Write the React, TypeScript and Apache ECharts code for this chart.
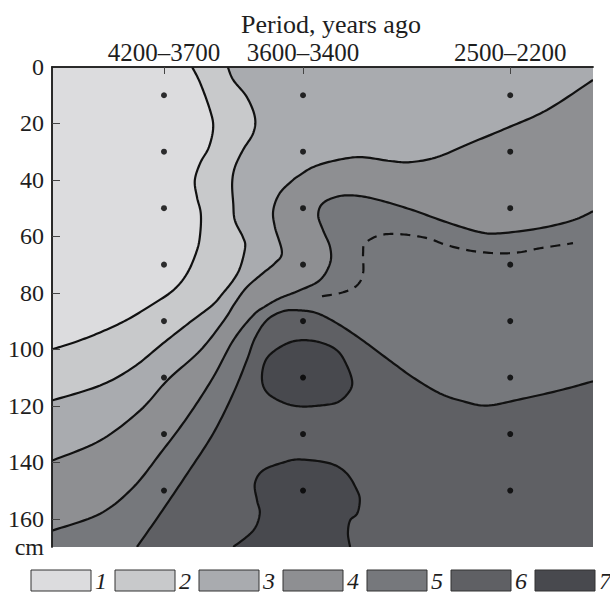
import React, { useEffect, useRef } from "react";
import * as echarts from "echarts";

// ---- data (x: relative position 0–100 across the section, y: depth in cm) ----
const periodLabels = ["4200–3700", "3600–3400", "2500–2200"];
const periodX = [20.7, 46.4, 84.7];
const sampleDepths = [10, 30, 50, 70, 90, 110, 130, 150];
const depthTicks = [20, 40, 60, 80, 100, 120, 140, 160];
const depthLabels = [0, 20, 40, 60, 80, 100, 120, 140, 160, 170];
const legendLabels = ["1", "2", "3", "4", "5", "6", "7"];

// contour 1|2 (top edge -> left edge)
const c12 = [[25.9,0],[27.4,5.7],[29.2,15.2],[29.8,21.3],[29.0,28.4],[27.4,34.0],[26.4,40.1],[26.8,46.1],[27.5,51.8],[27.4,58.9],[26.8,64.9],[25.0,73.0],[22.4,79.1],[18.3,84.4],[13.7,89.7],[8.9,94.0],[4.6,97.2],[0,100]];
// contour 2|3 (top edge -> left edge)
const c23 = [[32.5,0],[33.5,4.6],[36.0,10.6],[37.5,17.7],[37.2,23.4],[35.3,29.4],[33.8,35.5],[33.3,41.1],[33.5,48.2],[33.8,54.3],[35.3,60.3],[35.7,63.8],[34.8,70.9],[33.5,75.5],[31.6,80.1],[29.6,84.4],[25.5,90.4],[20.5,97.9],[15.0,106.4],[8.9,112.8],[0,118.1]];
// contour 3|4 (right edge -> left edge)
const c34 = [[100,4.6],[91.5,15.2],[84.1,21.6],[77.3,27.0],[71.2,31.9],[66.2,33.7],[62.5,33.3],[56.9,31.9],[51.9,33.3],[48.2,35.5],[45.8,38.3],[44.5,40.1],[42.1,44.7],[40.9,50.7],[41.2,56.7],[42.5,65.6],[41.2,69.5],[39.0,73.0],[36.0,78.0],[33.8,83.7],[31.8,89.7],[27.4,100.4],[21.3,111.0],[16.3,121.6],[8.9,132.3],[0,139.4]];
// contour 4|5 (right edge -> left edge)
const c45 = [[100,51.1],[96.3,54.3],[90.2,57.1],[82.8,58.9],[79.1,58.5],[73.0,55.0],[66.7,50.7],[61.2,47.5],[56.9,45.7],[53.2,45.7],[50.1,48.2],[49.2,52.5],[50.1,57.8],[51.4,63.8],[51.4,69.5],[49.5,75.5],[45.8,79.1],[42.1,81.9],[39.4,84.8],[37.2,87.9],[33.5,96.8],[29.8,109.9],[25.0,124.1],[20.0,136.9],[15.0,148.9],[8.9,158.2],[0,164.2]];
// contour 5|6 (right edge -> bottom edge)
const c56 = [[100,111.3],[93.9,114.5],[86.5,117.7],[80.4,119.9],[76.0,118.4],[71.7,115.6],[66.7,109.9],[61.9,103.2],[56.9,96.1],[52.7,90.8],[49.0,87.2],[45.8,86.2],[42.7,86.5],[39.7,89.7],[37.5,96.1],[36.0,103.9],[33.5,115.6],[29.8,129.8],[25.0,144.0],[20.0,158.2],[15.7,170]];
// contour 6|7, upper closed patch
const c67upper = [[45.8,96.8],[49.5,97.5],[52.7,100.4],[54.5,105.7],[55.5,111.7],[54.7,115.6],[52.7,118.8],[49.5,119.9],[45.8,120.2],[42.7,118.8],[39.7,115.2],[38.8,109.9],[39.7,103.2],[42.7,98.6]];
// contour 6|7, lower patch (bottom edge -> bottom edge)
const c67lower = [[33.5,170],[37.2,164.2],[38.4,158.2],[37.9,153.5],[37.5,147.5],[39.0,142.9],[42.7,140.1],[45.8,139.0],[51.4,140.4],[54.5,144.0],[56.4,150.0],[56.9,153.5],[56.4,158.2],[55.1,160.6],[54.7,165.2],[55.1,170]];
// dashed isoline
const dashed = [[49.9,81.2],[53.8,79.8],[56.4,77.3],[57.5,73.0],[57.5,66.0],[57.9,62.4],[60.6,59.6],[64.3,59.2],[69.3,60.6],[73.0,63.1],[77.8,65.2],[82.8,66.0],[86.5,65.6],[90.2,64.2],[96.3,62.4]];

const X_MIN = 0, X_MAX = 100, Y_MIN = 0, Y_MAX = 170;

const colors = ["#dcdcde", "#c8c9cb", "#a9abaf", "#8e8f92", "#76787c", "#5f6064", "#48494e"];
const FONT = "'Liberation Serif', 'DejaVu Serif', serif";
const INK = "#1e1e1e";

type Layer = {
  pts: number[][];
  fill: string | null;
  close: number[][];
  loop: boolean;
  dash: boolean;
  stroke: boolean;
};

const layers: Layer[] = [
  { pts: [[X_MIN, Y_MIN], [X_MAX, Y_MIN], [X_MAX, Y_MAX], [X_MIN, Y_MAX]], fill: colors[0], close: [], loop: false, dash: false, stroke: false },
  { pts: c12, fill: colors[1], close: [[X_MIN, Y_MAX], [X_MAX, Y_MAX], [X_MAX, Y_MIN]], loop: false, dash: false, stroke: true },
  { pts: c23, fill: colors[2], close: [[X_MIN, Y_MAX], [X_MAX, Y_MAX], [X_MAX, Y_MIN]], loop: false, dash: false, stroke: true },
  { pts: c34, fill: colors[3], close: [[X_MIN, Y_MAX], [X_MAX, Y_MAX]], loop: false, dash: false, stroke: true },
  { pts: c45, fill: colors[4], close: [[X_MIN, Y_MAX], [X_MAX, Y_MAX]], loop: false, dash: false, stroke: true },
  { pts: c56, fill: colors[5], close: [[X_MAX, Y_MAX]], loop: false, dash: false, stroke: true },
  { pts: c67upper, fill: colors[6], close: [], loop: true, dash: false, stroke: true },
  { pts: c67lower, fill: colors[6], close: [], loop: false, dash: false, stroke: true },
  { pts: dashed, fill: null, close: [], loop: false, dash: true, stroke: true },
];

function catmull(p: number[][], closed: boolean, steps = 10): number[][] {
  const n = p.length;
  if (n < 3) return p.slice();
  const get = (i: number) => (closed ? p[(i + n) % n] : p[Math.max(0, Math.min(n - 1, i))]);
  const segs = closed ? n : n - 1;
  const out: number[][] = [];
  for (let i = 0; i < segs; i++) {
    const p0 = get(i - 1), p1 = get(i), p2 = get(i + 1), p3 = get(i + 2);
    for (let s = 0; s < steps; s++) {
      const t = s / steps, t2 = t * t, t3 = t2 * t;
      const f = (k: number) =>
        0.5 * (2 * p1[k] + (-p0[k] + p2[k]) * t + (2 * p0[k] - 5 * p1[k] + 4 * p2[k] - p3[k]) * t2 + (-p0[k] + 3 * p1[k] - 3 * p2[k] + p3[k]) * t3);
      out.push([f(0), f(1)]);
    }
  }
  if (!closed) out.push(p[n - 1]);
  return out;
}

export default function App() {
  const ref = useRef<HTMLDivElement>(null);

  useEffect(() => {
    if (!ref.current) return;
    const chart = echarts.init(ref.current, null, { renderer: "svg" });

    const dots: number[][] = [];
    periodX.forEach((x) => sampleDepths.forEach((d) => dots.push([x, d])));

    const legendGraphics: any[] = [];
    legendLabels.forEach((lab, i) => {
      const x0 = 31 + i * 84;
      legendGraphics.push({
        type: "rect",
        shape: { x: x0, y: 570, width: 60, height: 21 },
        style: { fill: colors[i], stroke: "#333", lineWidth: 1 },
      });
      legendGraphics.push({
        type: "text",
        x: x0 + 64,
        y: 581,
        style: { text: lab, font: `italic 24px ${FONT}`, fill: INK, textAlign: "left", textVerticalAlign: "middle" },
      });
    });

    const frameAxis = {
      show: true,
      axisLine: { show: true, lineStyle: { color: INK, width: 1.5 } },
      axisTick: { show: false },
      axisLabel: { show: false },
      splitLine: { show: false },
      z: 10,
    };

    chart.setOption({
      animation: false,
      backgroundColor: "#ffffff",
      grid: { left: 52, top: 67, right: 17, bottom: 47, containLabel: false },
      xAxis: [
        {
          type: "value",
          position: "top",
          min: X_MIN,
          max: X_MAX,
          z: 10,
          axisLine: { show: true, lineStyle: { color: INK, width: 1.5 } },
          axisTick: { show: true, inside: true, length: 7, customValues: periodX, lineStyle: { color: "#444", width: 1 } },
          axisLabel: {
            show: true,
            customValues: periodX,
            margin: 2,
            color: INK,
            fontFamily: FONT,
            fontSize: 25,
            formatter: (v: number) => {
              let best = 0;
              periodX.forEach((p, i) => { if (Math.abs(p - v) < Math.abs(periodX[best] - v)) best = i; });
              return periodLabels[best];
            },
          },
          splitLine: { show: false },
        },
        { ...frameAxis, type: "value", position: "bottom", min: X_MIN, max: X_MAX },
      ],
      yAxis: [
        {
          type: "value",
          inverse: true,
          min: Y_MIN,
          max: Y_MAX,
          z: 10,
          axisLine: { show: true, lineStyle: { color: INK, width: 1.5 } },
          axisTick: { show: true, inside: true, length: 8, customValues: depthTicks, lineStyle: { color: "#444", width: 1 } },
          axisLabel: {
            show: true,
            customValues: depthLabels,
            margin: 8,
            color: INK,
            fontFamily: FONT,
            fontSize: 24,
            formatter: (v: number) => (v === Y_MAX ? "cm" : String(v)),
          },
          splitLine: { show: false },
        },
        { ...frameAxis, type: "value", position: "right", inverse: true, min: Y_MIN, max: Y_MAX },
      ],
      graphic: [
        {
          type: "text",
          x: 331,
          y: 24,
          style: { text: "Period, years ago", font: `26px ${FONT}`, fill: INK, textAlign: "center", textVerticalAlign: "middle" },
        },
        ...legendGraphics,
      ],
      series: [
        {
          type: "custom",
          coordinateSystem: "cartesian2d",
          clip: true,
          silent: true,
          z: 2,
          data: layers.map((_, i) => [i]),
          encode: { x: -1, y: -1 },
          renderItem: (params: any, api: any) => {
            const layer = layers[params.dataIndex];
            const px = layer.pts.map((p) => api.coord(p));
            const curve = layer.stroke ? catmull(px, layer.loop, 12) : px;
            const children: any[] = [];
            if (layer.fill) {
              const closePx = layer.close.map((p) => api.coord(p));
              children.push({
                type: "polygon",
                shape: { points: curve.concat(closePx) },
                style: { fill: layer.fill, stroke: "none" },
              });
            }
            if (layer.stroke) {
              const line = layer.loop ? curve.concat([curve[0]]) : curve;
              children.push({
                type: "polyline",
                shape: { points: line },
                style: {
                  fill: "none",
                  stroke: "#111",
                  lineWidth: 2.2,
                  lineDash: layer.dash ? [10, 7] : null,
                },
              });
            }
            return { type: "group", children };
          },
        },
        {
          type: "scatter",
          data: dots,
          symbol: "circle",
          symbolSize: 6,
          itemStyle: { color: "#000" },
          z: 5,
          silent: true,
        },
      ],
    });

    return () => chart.dispose();
  }, []);

  return (
    <div
      ref={ref}
      style={{ position: "fixed", left: 0, top: 0, width: 610, height: 594, background: "#fff" }}
    />
  );
}
